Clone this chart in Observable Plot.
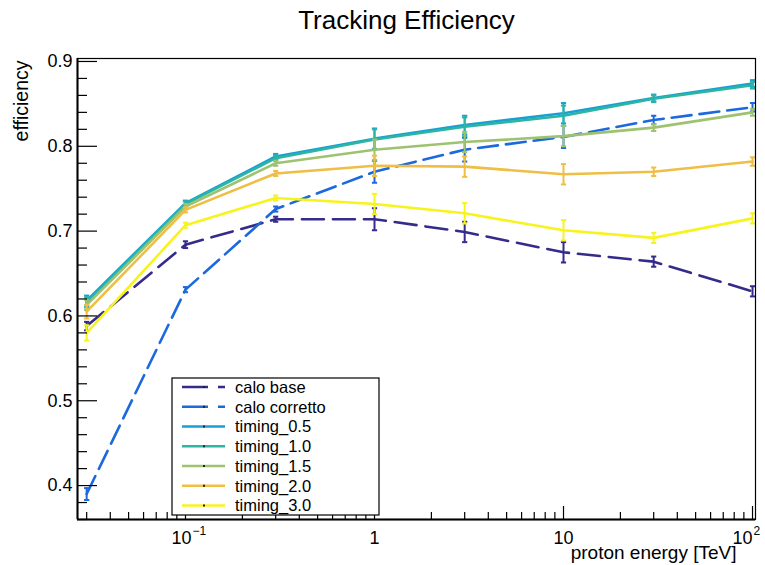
<!DOCTYPE html>
<html><head><meta charset="utf-8">
<script src="https://cdn.jsdelivr.net/npm/d3@7"></script>
<script src="https://cdn.jsdelivr.net/npm/@observablehq/plot@0.6"></script>
<style>
body{margin:0;background:#fff;}
svg{font-family:"Liberation Sans",Arial,Helvetica,sans-serif;}
</style>
</head><body><div id="chart"></div>
<script>
// ---- data ----
const energies = [0.03, 0.1, 0.3, 1, 3, 10, 30, 100];
const seriesNames = ["calo base", "calo corretto", "timing_0.5", "timing_1.0", "timing_1.5", "timing_2.0", "timing_3.0"];
const seriesColors = ["#342b8a", "#1b69dd", "#18a0d6", "#2cb5a3", "#9dc371", "#efbe44", "#f7f31c"];
const seriesDash = ["22,9", "20,8", null, null, null, null, null];

const caloBase        = [0.588, 0.684, 0.714, 0.714, 0.699, 0.675, 0.664, 0.629];
const caloBaseErr     = [0.005, 0.004, 0.003, 0.013, 0.012, 0.012, 0.006, 0.006];
const caloCorretto    = [0.390, 0.631, 0.726, 0.770, 0.796, 0.811, 0.831, 0.846];
const caloCorrettoErr = [0.007, 0.003, 0.003, 0.013, 0.014, 0.013, 0.005, 0.005];
const timing05        = [0.618, 0.733, 0.788, 0.809, 0.825, 0.839, 0.857, 0.874];
const timing05Err     = [0.006, 0.003, 0.003, 0.012, 0.011, 0.012, 0.004, 0.004];
const timing10        = [0.616, 0.732, 0.786, 0.808, 0.823, 0.836, 0.856, 0.872];
const timing10Err     = [0.006, 0.003, 0.003, 0.012, 0.011, 0.012, 0.004, 0.004];
const timing15        = [0.613, 0.729, 0.780, 0.796, 0.805, 0.812, 0.822, 0.840];
const timing15Err     = [0.006, 0.003, 0.003, 0.012, 0.012, 0.012, 0.004, 0.004];
const timing20        = [0.605, 0.725, 0.768, 0.777, 0.776, 0.767, 0.770, 0.782];
const timing20Err     = [0.008, 0.003, 0.003, 0.012, 0.012, 0.012, 0.005, 0.005];
const timing30        = [0.580, 0.707, 0.739, 0.732, 0.721, 0.701, 0.692, 0.715];
const timing30Err     = [0.009, 0.003, 0.003, 0.012, 0.012, 0.012, 0.006, 0.006];

const seriesValues = [caloBase, caloCorretto, timing05, timing10, timing15, timing20, timing30];
const seriesErrors = [caloBaseErr, caloCorrettoErr, timing05Err, timing10Err, timing15Err, timing20Err, timing30Err];

const yTicks = [0.4, 0.5, 0.6, 0.7, 0.8, 0.9];
const yMinorTicks = [0.36,0.38,0.42,0.44,0.46,0.48,0.52,0.54,0.56,0.58,0.62,0.64,0.66,0.68,0.72,0.74,0.76,0.78,0.82,0.84,0.86,0.88];
const xMajorTicks = [0.1, 1, 10, 100];
const xMinorTicks = [0.03,0.04,0.05,0.06,0.07,0.08,0.09,0.2,0.3,0.4,0.5,0.6,0.7,0.8,0.9,2,3,4,5,6,7,8,9,20,30,40,50,60,70,80,90];
const xTickBase = ["10", "1", "10", "10"];
const xTickExp  = ["\u22121", "", "", "2"];

// ---- layout ----
const W = 765, H = 565;
const mL = 77, mR = 10, mT = 58, mB = 46;
const FW = W - mL - mR, FH = H - mT - mB;
const xDomain = [0.02683, 103.7];
const yDomain = [0.36, 0.9035];

const rows = [];
seriesNames.forEach((name, si) => {
  energies.forEach((e, i) => rows.push({series: name, x: e, y: seriesValues[si][i], err: seriesErrors[si][i]}));
});

const capSymbol = {draw(ctx, size) { const w = Math.sqrt(size / Math.PI); ctx.moveTo(-w, 0); ctx.lineTo(w, 0); }};

const marks = [];
seriesNames.forEach((name, si) => {
  const d = rows.filter(r => r.series === name);
  marks.push(Plot.line(d, {x: "x", y: "y", stroke: seriesColors[si], strokeWidth: 2.6, strokeDasharray: seriesDash[si] || undefined}));
  marks.push(Plot.ruleX(d, {x: "x", y1: r => r.y - r.err, y2: r => r.y + r.err, stroke: seriesColors[si], strokeWidth: 2}));
  marks.push(Plot.dot(d, {x: "x", y: r => r.y - r.err, symbol: capSymbol, r: 2.6, stroke: seriesColors[si], strokeWidth: 2, fill: "none"}));
  marks.push(Plot.dot(d, {x: "x", y: r => r.y + r.err, symbol: capSymbol, r: 2.6, stroke: seriesColors[si], strokeWidth: 2, fill: "none"}));
});

const tickFont = 18;
const chart = Plot.plot({
  width: W, height: H,
  marginLeft: mL, marginRight: mR, marginTop: mT, marginBottom: mB,
  style: {fontFamily: '"Liberation Sans", Arial, sans-serif', background: "white"},
  x: {type: "log", domain: xDomain, axis: null},
  y: {domain: yDomain, axis: null},
  marks: [
    ...marks,
    Plot.frame({stroke: "black", strokeWidth: 1.2}),
    Plot.ruleX([xDomain[0]], {stroke: "black", strokeWidth: 2}),
    Plot.ruleY([yDomain[0]], {stroke: "black", strokeWidth: 2}),
    Plot.tickY(yTicks, {y: d => d, insetRight: FW - 20, stroke: "black", strokeWidth: 1.2}),
    Plot.tickY(yMinorTicks, {y: d => d, insetRight: FW - 10, stroke: "black", strokeWidth: 1.2}),
    Plot.tickX(xMajorTicks, {x: d => d, insetTop: FH - 13, stroke: "black", strokeWidth: 1.2}),
    Plot.tickX(xMinorTicks, {x: d => d, insetTop: FH - 7, stroke: "black", strokeWidth: 1.2}),
    Plot.axisY(yTicks, {tickSize: 0, tickPadding: 5, fontSize: tickFont, tickFormat: d3.format(".1f"), label: null}),
    // x tick labels
    Plot.text([0], {x: i => xMajorTicks[i], text: i => xTickBase[i], frameAnchor: "bottom", textAnchor: "end", dx: 6, dy: 24, lineAnchor: "bottom", fontSize: tickFont, fill: "black"}),
    Plot.text([0], {x: i => xMajorTicks[i], text: i => xTickExp[i], frameAnchor: "bottom", textAnchor: "start", dx: 7, dy: 15, lineAnchor: "bottom", fontSize: 12, fill: "black"}),
    Plot.text([1, 2], {x: i => xMajorTicks[i], text: i => xTickBase[i], frameAnchor: "bottom", textAnchor: "middle", dy: 24, lineAnchor: "bottom", fontSize: tickFont, fill: "black"}),
    Plot.text([3], {x: i => xMajorTicks[i], text: i => xTickBase[i], frameAnchor: "bottom", textAnchor: "end", dx: 0, dy: 24, lineAnchor: "bottom", fontSize: tickFont, fill: "black"}),
    Plot.text([3], {x: i => xMajorTicks[i], text: i => xTickExp[i], frameAnchor: "bottom", textAnchor: "start", dx: 1, dy: 15, lineAnchor: "bottom", fontSize: 12, fill: "black"}),
    // titles
    Plot.text(["Tracking Efficiency"], {frameAnchor: "top", dx: -10, dy: -30, lineAnchor: "bottom", fontSize: 26, fill: "black"}),
    Plot.text(["efficiency"], {frameAnchor: "top-left", dx: -50, dy: 2, rotate: -90, textAnchor: "end", lineAnchor: "bottom", fontSize: 19.5, fill: "black"}),
    Plot.text(["proton energy [TeV]"], {frameAnchor: "bottom-right", dx: -19, dy: 39, textAnchor: "end", lineAnchor: "bottom", fontSize: 19, fill: "black"})
  ]
});

// ---- legend ----
const svg = d3.select(chart);
const lg = svg.append("g").attr("class", "legend").attr("text-anchor", "start");
const lx = 172, ly = 378, lw = 207, lh = 137, rowH = 19.75;
lg.append("rect").attr("x", lx).attr("y", ly).attr("width", lw).attr("height", lh)
  .attr("fill", "white").attr("stroke", "black").attr("stroke-width", 1.2);
seriesNames.forEach((name, i) => {
  const cy = ly + 9 + i * rowH;
  lg.append("line").attr("x1", lx + 10).attr("x2", lx + 53).attr("y1", cy).attr("y2", cy)
    .attr("stroke", seriesColors[i]).attr("stroke-width", 2.6)
    .attr("stroke-dasharray", seriesDash[i] ? "26,10,7" : null);
  lg.append("rect").attr("x", lx + 31).attr("y", cy - 1).attr("width", 2).attr("height", 2).attr("fill", "#222");
  lg.append("text").attr("x", lx + 63).attr("y", cy).attr("dy", "0.35em").attr("text-anchor", "start")
    .attr("font-size", 16.5).attr("fill", "black").text(name);
});

document.getElementById("chart").appendChild(chart);
</script>
</body></html>
